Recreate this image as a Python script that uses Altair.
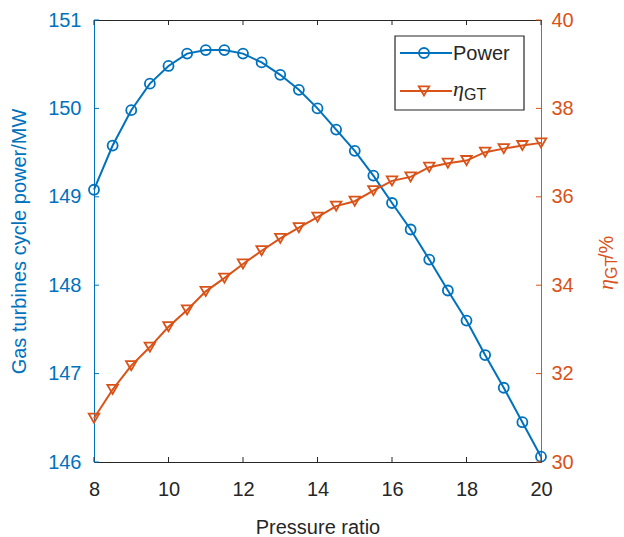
import altair as alt
import pandas as pd

# ---------------- data ----------------
pressure_ratio = [8, 8.5, 9, 9.5, 10, 10.5, 11, 11.5, 12, 12.5, 13, 13.5, 14,
                  14.5, 15, 15.5, 16, 16.5, 17, 17.5, 18, 18.5, 19, 19.5, 20]
power_mw = [149.08, 149.58, 149.98, 150.28, 150.48, 150.62, 150.66, 150.66,
            150.62, 150.52, 150.38, 150.21, 150.00, 149.76, 149.52, 149.24,
            148.93, 148.63, 148.29, 147.94, 147.60, 147.21, 146.84, 146.45,
            146.06]
eta_gt = [30.99, 31.64, 32.18, 32.60, 33.06, 33.44, 33.86, 34.16, 34.48,
          34.78, 35.06, 35.30, 35.54, 35.79, 35.90, 36.14, 36.36, 36.45,
          36.67, 36.76, 36.82, 37.01, 37.09, 37.16, 37.22]
x_ticks = [8, 10, 12, 14, 16, 18, 20]
power_ticks = [146, 147, 148, 149, 150, 151]
eta_ticks = [30, 32, 34, 36, 38, 40]

# ---------------- style ----------------
BLUE = "#0072BD"
ORANGE = "#D95319"
DARK = "#262626"
FONT = "Liberation Sans"
W, H = 447, 442

df = pd.DataFrame({"pr": pressure_ratio, "power": power_mw, "eta": eta_gt})
xt = pd.DataFrame({"pr": x_ticks})
pt = pd.DataFrame({"power": power_ticks})
et = pd.DataFrame({"eta": eta_ticks})
one = pd.DataFrame({"k": [0]})

xscale = alt.Scale(domain=[8, 20], nice=False, zero=False)
pscale = alt.Scale(domain=[146, 151], nice=False, zero=False)
escale = alt.Scale(domain=[30, 40], nice=False, zero=False)

xaxis = alt.Axis(values=x_ticks, title="Pressure ratio", format="d",
                 tickSize=0, labelPadding=17, titlePadding=18,
                 labelFlush=False, labelOverlap=False,
                 labelFontSize=20, titleFontSize=20, labelColor=DARK,
                 titleColor=DARK, domainColor=DARK, grid=False,
                 titleFontWeight="normal", labelFont=FONT, titleFont=FONT)
X = alt.X("pr:Q", scale=xscale, axis=xaxis)

paxis = alt.Axis(values=power_ticks, title="Gas turbines cycle power/MW",
                 orient="left", tickSize=0, labelPadding=13, titlePadding=18,
                 labelFlush=False, labelOverlap=False,
                 labelFontSize=20, titleFontSize=20, labelColor=BLUE,
                 titleColor=BLUE, domainColor=BLUE, grid=False,
                 titleFontWeight="normal", labelFont=FONT, titleFont=FONT)
eaxis = alt.Axis(values=eta_ticks, title=None, orient="right", tickSize=0,
                 labelPadding=10, labelFontSize=20, labelColor=ORANGE,
                 labelFlush=False, labelOverlap=False,
                 domainColor=ORANGE, grid=False, labelFont=FONT)
PY = alt.Y("power:Q", scale=pscale, axis=paxis)
EY = alt.Y("eta:Q", scale=escale, axis=eaxis)

base = alt.Chart(df)

power_line = base.mark_line(color=BLUE, strokeWidth=2).encode(x=X, y=PY)
power_pts = base.mark_point(shape="circle", filled=False, size=100,
                            strokeWidth=1.8, color=BLUE, opacity=1).encode(x=X, y=PY)

# inward tick marks
xt_bottom = alt.Chart(xt).mark_rule(color=DARK, strokeWidth=1).encode(
    x=X, y=alt.value(H - 5), y2=alt.value(H))
xt_top = alt.Chart(xt).mark_rule(color=DARK, strokeWidth=1).encode(
    x=X, y=alt.value(0), y2=alt.value(5))
yt_left = alt.Chart(pt).mark_rule(color=BLUE, strokeWidth=1).encode(
    y=PY, x=alt.value(0), x2=alt.value(5))

left = alt.layer(power_line, power_pts, xt_bottom, xt_top, yt_left)

eta_line = base.mark_line(color=ORANGE, strokeWidth=2).encode(x=X, y=EY)
eta_pts = base.mark_point(shape="triangle-down", filled=False, size=110,
                          strokeWidth=1.8, color=ORANGE, opacity=1).encode(x=X, y=EY)
yt_right = alt.Chart(et).mark_rule(color=ORANGE, strokeWidth=1).encode(
    y=EY, x=alt.value(W - 5), x2=alt.value(W))

# legend (drawn by hand so the subscript can be kept)
o = alt.Chart(one)
leg_box = o.mark_rect(fill="white", stroke=DARK, strokeWidth=1.2).encode(
    x=alt.value(301), x2=alt.value(430), y=alt.value(16), y2=alt.value(90))
leg_l1 = o.mark_rule(color=BLUE, strokeWidth=2).encode(
    x=alt.value(306), x2=alt.value(358), y=alt.value(33))
leg_p1 = o.mark_point(shape="circle", filled=False, size=100, strokeWidth=1.8,
                      color=BLUE, opacity=1).encode(x=alt.value(330), y=alt.value(33))
leg_t1 = o.mark_text(align="left", baseline="middle", font=FONT, fontSize=20,
                     color=DARK).encode(x=alt.value(359), y=alt.value(34),
                                        text=alt.value("Power"))
leg_l2 = o.mark_rule(color=ORANGE, strokeWidth=2).encode(
    x=alt.value(306), x2=alt.value(358), y=alt.value(71))
leg_p2 = o.mark_point(shape="triangle-down", filled=False, size=110,
                      strokeWidth=1.8, color=ORANGE, opacity=1).encode(
    x=alt.value(330), y=alt.value(71))
leg_t2a = o.mark_text(align="left", baseline="alphabetic", font="Liberation Serif",
                      fontStyle="italic", fontSize=22, color=DARK).encode(
    x=alt.value(359), y=alt.value(76), text=alt.value("η"))
leg_t2b = o.mark_text(align="left", baseline="alphabetic", font=FONT,
                      fontSize=16, color=DARK).encode(
    x=alt.value(370), y=alt.value(80), text=alt.value("GT"))

# right axis title  η_GT/%
rt_a = o.mark_text(align="left", baseline="alphabetic", angle=270,
                   font="Liberation Serif", fontStyle="italic", fontSize=22,
                   color=ORANGE).encode(x=alt.value(W + 72), y=alt.value(270),
                                        text=alt.value("η"))
rt_b = o.mark_text(align="left", baseline="alphabetic", angle=270, font=FONT,
                   fontSize=16, color=ORANGE).encode(
    x=alt.value(W + 76), y=alt.value(259), text=alt.value("GT"))
rt_c = o.mark_text(align="left", baseline="alphabetic", angle=270, font=FONT,
                   fontSize=20, color=ORANGE).encode(
    x=alt.value(W + 72), y=alt.value(239), text=alt.value("/%"))

right = alt.layer(eta_line, eta_pts, yt_right, leg_box, leg_l1, leg_p1, leg_t1,
                  leg_l2, leg_p2, leg_t2a, leg_t2b, rt_a, rt_b, rt_c)

chart = alt.layer(left, right).resolve_scale(y="independent").properties(
    width=W, height=H,
    autosize=alt.AutoSizeParams(type="none"),
    padding={"left": 94, "top": 20, "right": 624 - 94 - W, "bottom": 537 - 20 - H},
    background="white",
).configure_view(stroke=DARK, strokeWidth=1)

chart.save("out.html", embed_options={"renderer": "svg", "actions": False})
